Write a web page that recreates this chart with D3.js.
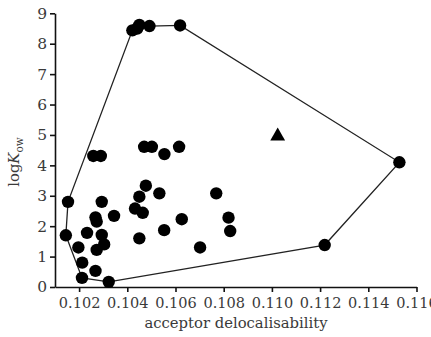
<!DOCTYPE html>
<html><head><meta charset="utf-8">
<script src="https://cdn.jsdelivr.net/npm/d3@7"></script>
<style>
body{margin:0;background:#fff;}
</style>
</head><body>
<svg id="c" width="431" height="337"></svg>
<script>
const xTicks = [0.102,0.104,0.106,0.108,0.110,0.112,0.114,0.116];
const yTicks = [0,1,2,3,4,5,6,7,8,9];
const pointX = [0.10145,0.10154,0.10212,0.10323,0.11219,0.11529,0.10619,0.10492,0.1045,0.10421,
  0.10259,0.1029,0.1047,0.10502,0.10554,0.10615,0.10477,0.1045,0.10533,0.10769,
  0.10294,0.10345,0.10268,0.10273,0.10233,0.10294,0.10304,0.10273,0.10197,0.10213,
  0.10268,0.10432,0.10464,0.1045,0.10553,0.10626,0.10702,0.1082,0.10827,0.10441];
const pointY = [1.70,2.80,0.30,0.17,1.38,4.10,8.60,8.58,8.62,8.44,
  4.31,4.31,4.61,4.61,4.37,4.61,3.33,2.97,3.08,3.08,
  2.80,2.34,2.29,2.15,1.78,1.71,1.40,1.22,1.30,0.80,
  0.53,2.58,2.44,1.60,1.87,2.23,1.30,2.28,1.84,8.50];
const hullX = [0.10145,0.10154,0.10421,0.1045,0.10492,0.10619,0.11529,0.11219,0.10323,0.10212,0.10145];
const hullY = [1.70,2.80,8.44,8.62,8.58,8.60,4.10,1.38,0.17,0.30,1.70];
const triX = [0.11024];
const triY = [4.96];

const FONT = "DejaVu Serif";
const svg = d3.select("#c");
const x = d3.scaleLinear().domain([0.101,0.116]).range([55,416.5]);
const y = d3.scaleLinear().domain([0,9]).range([287,13.3]);

const xa = svg.append("g").attr("transform","translate(0,287)")
  .call(d3.axisBottom(x).tickValues(xTicks).tickFormat(d3.format(".3f")).tickSize(5).tickSizeOuter(0));
const ya = svg.append("g").attr("transform","translate(55,0)")
  .call(d3.axisLeft(y).tickValues(yTicks).tickFormat(d3.format("d")).tickSize(5).tickSizeOuter(0));
[xa,ya].forEach(g=>{
  g.attr("font-family",FONT).attr("font-size",14.5);
  g.select(".domain").attr("stroke","#111").attr("stroke-width",1.6);
  g.selectAll(".tick line").attr("stroke","#111").attr("stroke-width",1.6);
  g.selectAll(".tick text").attr("fill","#3a3a3a");
});
ya.attr("font-size",15.5);
xa.selectAll(".tick text").attr("dy","1em").attr("y",6);
ya.selectAll(".tick text").attr("x",-8);

svg.append("path")
  .datum(hullX.map((v,i)=>[v,hullY[i]]))
  .attr("fill","none").attr("stroke","#222").attr("stroke-width",1.3)
  .attr("d",d3.line().x(d=>x(d[0])).y(d=>y(d[1])));

svg.append("g").selectAll("circle")
  .data(pointX.map((v,i)=>[v,pointY[i]]))
  .join("circle")
  .attr("cx",d=>x(d[0])).attr("cy",d=>y(d[1])).attr("r",6.2).attr("fill","#000");

svg.append("g").selectAll("path")
  .data(triX.map((v,i)=>[v,triY[i]]))
  .join("path")
  .attr("transform",d=>`translate(${x(d[0])},${y(d[1])})`)
  .attr("d",d3.symbol(d3.symbolTriangle,95)).attr("fill","#000");

svg.append("text").attr("x",236).attr("y",328).attr("text-anchor","middle")
  .attr("font-family",FONT).attr("font-size",14.8)
  .attr("fill","#3a3a3a").text("acceptor delocalisability");

const yl = svg.append("text").attr("transform","translate(19,162) rotate(-90)")
  .attr("font-family",FONT).attr("font-size",14.8)
  .attr("text-anchor","middle").attr("fill","#3a3a3a");
yl.append("tspan").text("log");
yl.append("tspan").attr("font-style","italic").text("K");
yl.append("tspan").attr("dy","4").attr("font-size",10.5).text("ow");
</script>
</body></html>
